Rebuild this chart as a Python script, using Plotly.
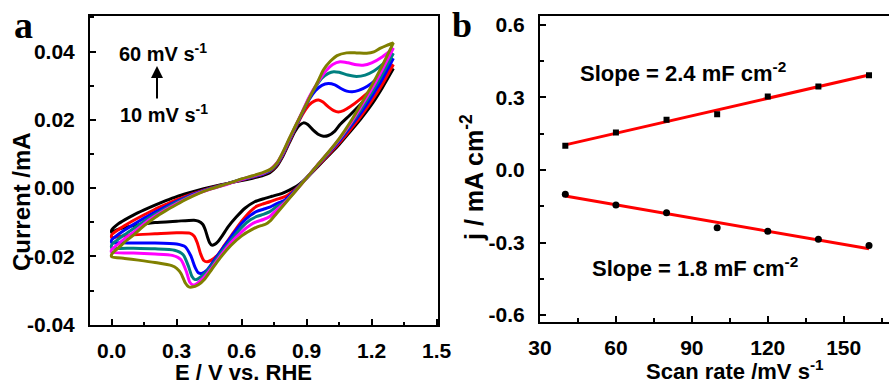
import plotly.graph_objects as go

# ---------------- Panel a: CV curves (E in V vs RHE, I in mA) ----------------
scan_rates = ["10", "20", "30", "40", "50", "60"]
cv_colors = ["#000000", "#ff0000", "#0000ff", "#008080", "#ff00ff", "#808000"]

cv10_E_fwd = [0.00, 0.03, 0.06, 0.10, 0.15, 0.20, 0.25, 0.30, 0.35, 0.40, 0.45, 0.50, 0.55, 0.60, 0.65, 0.70, 0.73, 0.76, 0.79, 0.82, 0.845, 0.865, 0.885, 0.905, 0.93, 0.955, 0.977, 1.00, 1.03, 1.054, 1.10, 1.15, 1.20, 1.25, 1.30]
cv10_I_fwd = [-0.0123, -0.0105, -0.0093, -0.0079, -0.0064, -0.0050, -0.0037, -0.0025, -0.0015, -0.0006, 0.0002, 0.0009, 0.0016, 0.0022, 0.0029, 0.0037, 0.0045, 0.0062, 0.0093, 0.0133, 0.0165, 0.0183, 0.0191, 0.0186, 0.0170, 0.0157, 0.0152, 0.0154, 0.0167, 0.0186, 0.0214, 0.0246, 0.0278, 0.0313, 0.0350]
cv10_E_rev = [1.30, 1.25, 1.20, 1.15, 1.10, 1.05, 1.00, 0.95, 0.90, 0.86, 0.82, 0.784, 0.74, 0.707, 0.66, 0.615, 0.575, 0.538, 0.51, 0.49, 0.475, 0.462, 0.452, 0.443, 0.432, 0.42, 0.40, 0.38, 0.30, 0.20, 0.15, 0.10, 0.05, 0.02, 0.00]
cv10_I_rev = [0.0350, 0.0295, 0.0245, 0.0203, 0.0165, 0.0128, 0.0095, 0.0062, 0.0030, 0.0008, -0.0006, -0.0016, -0.0024, -0.0030, -0.0040, -0.0059, -0.0085, -0.0113, -0.0140, -0.0157, -0.0165, -0.0167, -0.0160, -0.0145, -0.0122, -0.0106, -0.0097, -0.0094, -0.0097, -0.0101, -0.0105, -0.0110, -0.0117, -0.0123, -0.0130]

cv20_E_fwd = [0.00, 0.03, 0.06, 0.10, 0.15, 0.20, 0.25, 0.30, 0.35, 0.40, 0.45, 0.50, 0.55, 0.60, 0.65, 0.70, 0.73, 0.76, 0.79, 0.82, 0.85, 0.88, 0.91, 0.935, 0.955, 0.975, 1.00, 1.025, 1.046, 1.07, 1.10, 1.15, 1.20, 1.25, 1.30]
cv20_I_fwd = [-0.0137, -0.0122, -0.0110, -0.0095, -0.0078, -0.0062, -0.0048, -0.0034, -0.0022, -0.0011, -0.0001, 0.0008, 0.0016, 0.0024, 0.0032, 0.0041, 0.0049, 0.0066, 0.0097, 0.0137, 0.0178, 0.0215, 0.0243, 0.0255, 0.0258, 0.0252, 0.0238, 0.0227, 0.0223, 0.0227, 0.0238, 0.0262, 0.0290, 0.0325, 0.0362]
cv20_E_rev = [1.30, 1.25, 1.20, 1.15, 1.10, 1.05, 1.00, 0.95, 0.90, 0.85, 0.80, 0.76, 0.73, 0.70, 0.67, 0.64, 0.60, 0.56, 0.52, 0.49, 0.46, 0.44, 0.425, 0.41, 0.395, 0.38, 0.36, 0.30, 0.20, 0.10, 0.05, 0.00]
cv20_I_rev = [0.0362, 0.0305, 0.0255, 0.0210, 0.0170, 0.0132, 0.0098, 0.0064, 0.0030, -0.0002, -0.0025, -0.0033, -0.0040, -0.0046, -0.0053, -0.0068, -0.0097, -0.0132, -0.0168, -0.0195, -0.0211, -0.0216, -0.0212, -0.0192, -0.0160, -0.0140, -0.0132, -0.0131, -0.0134, -0.0137, -0.0140, -0.0145]

cv30_E_fwd = [0.00, 0.03, 0.06, 0.10, 0.15, 0.20, 0.25, 0.30, 0.35, 0.40, 0.45, 0.50, 0.55, 0.60, 0.65, 0.70, 0.73, 0.76, 0.79, 0.82, 0.85, 0.88, 0.91, 0.94, 0.97, 1.00, 1.03, 1.06, 1.085, 1.11, 1.14, 1.18, 1.22, 1.26, 1.30]
cv30_I_fwd = [-0.0152, -0.0136, -0.0123, -0.0107, -0.0088, -0.0070, -0.0054, -0.0039, -0.0025, -0.0013, -0.0002, 0.0007, 0.0016, 0.0025, 0.0033, 0.0042, 0.0051, 0.0068, 0.0099, 0.0140, 0.0180, 0.0220, 0.0258, 0.0285, 0.0301, 0.0306, 0.0302, 0.0291, 0.0284, 0.0282, 0.0286, 0.0298, 0.0318, 0.0344, 0.0380]
cv30_E_rev = [1.30, 1.25, 1.20, 1.15, 1.10, 1.05, 1.00, 0.95, 0.90, 0.85, 0.80, 0.76, 0.73, 0.70, 0.67, 0.64, 0.60, 0.56, 0.52, 0.48, 0.44, 0.415, 0.40, 0.385, 0.365, 0.34, 0.30, 0.20, 0.10, 0.05, 0.00]
cv30_I_rev = [0.0380, 0.0320, 0.0268, 0.0220, 0.0178, 0.0137, 0.0101, 0.0066, 0.0030, -0.0004, -0.0035, -0.0046, -0.0056, -0.0062, -0.0068, -0.0080, -0.0103, -0.0135, -0.0170, -0.0205, -0.0240, -0.0250, -0.0248, -0.0232, -0.0198, -0.0172, -0.0164, -0.0161, -0.0161, -0.0160, -0.0160]

cv40_E_fwd = [0.00, 0.03, 0.06, 0.10, 0.15, 0.20, 0.25, 0.30, 0.35, 0.40, 0.45, 0.50, 0.55, 0.60, 0.65, 0.70, 0.73, 0.76, 0.79, 0.82, 0.85, 0.88, 0.91, 0.94, 0.97, 1.00, 1.025, 1.05, 1.09, 1.13, 1.17, 1.21, 1.25, 1.30]
cv40_I_fwd = [-0.0166, -0.0150, -0.0136, -0.0119, -0.0097, -0.0077, -0.0059, -0.0042, -0.0027, -0.0014, -0.0003, 0.0006, 0.0016, 0.0026, 0.0034, 0.0043, 0.0052, 0.0070, 0.0101, 0.0142, 0.0182, 0.0222, 0.0262, 0.0295, 0.0322, 0.0336, 0.0341, 0.0339, 0.0331, 0.0327, 0.0331, 0.0343, 0.0362, 0.0395]
cv40_E_rev = [1.30, 1.25, 1.20, 1.15, 1.10, 1.05, 1.00, 0.95, 0.90, 0.85, 0.80, 0.76, 0.73, 0.70, 0.67, 0.64, 0.60, 0.56, 0.51, 0.47, 0.43, 0.40, 0.385, 0.37, 0.355, 0.33, 0.29, 0.20, 0.10, 0.00]
cv40_I_rev = [0.0395, 0.0335, 0.0280, 0.0230, 0.0184, 0.0141, 0.0103, 0.0067, 0.0030, -0.0006, -0.0040, -0.0055, -0.0069, -0.0077, -0.0083, -0.0093, -0.0115, -0.0145, -0.0185, -0.0220, -0.0250, -0.0265, -0.0268, -0.0258, -0.0230, -0.0195, -0.0182, -0.0178, -0.0176, -0.0175]

cv50_E_fwd = [0.00, 0.03, 0.06, 0.10, 0.15, 0.20, 0.25, 0.30, 0.35, 0.40, 0.45, 0.50, 0.55, 0.60, 0.65, 0.70, 0.73, 0.76, 0.79, 0.82, 0.85, 0.88, 0.91, 0.95, 0.99, 1.02, 1.054, 1.09, 1.13, 1.16, 1.20, 1.25, 1.30]
cv50_I_fwd = [-0.0180, -0.0164, -0.0148, -0.0130, -0.0104, -0.0082, -0.0063, -0.0045, -0.0029, -0.0015, -0.0004, 0.0005, 0.0015, 0.0026, 0.0035, 0.0044, 0.0054, 0.0072, 0.0103, 0.0144, 0.0184, 0.0224, 0.0265, 0.0308, 0.0344, 0.0362, 0.0370, 0.0367, 0.0361, 0.0360, 0.0367, 0.0385, 0.0410]
cv50_E_rev = [1.30, 1.25, 1.20, 1.15, 1.10, 1.05, 1.00, 0.95, 0.90, 0.85, 0.80, 0.76, 0.73, 0.70, 0.67, 0.64, 0.60, 0.55, 0.50, 0.46, 0.42, 0.39, 0.375, 0.36, 0.345, 0.32, 0.28, 0.20, 0.10, 0.00]
cv50_I_rev = [0.0410, 0.0348, 0.0290, 0.0238, 0.0187, 0.0143, 0.0104, 0.0068, 0.0030, -0.0007, -0.0042, -0.0065, -0.0083, -0.0092, -0.0098, -0.0108, -0.0128, -0.0160, -0.0200, -0.0235, -0.0265, -0.0281, -0.0284, -0.0275, -0.0245, -0.0210, -0.0197, -0.0193, -0.0190, -0.0188]

cv60_E_fwd = [0.00, 0.03, 0.06, 0.10, 0.15, 0.20, 0.25, 0.30, 0.35, 0.40, 0.45, 0.50, 0.55, 0.60, 0.65, 0.70, 0.74, 0.765, 0.79, 0.823, 0.87, 0.915, 0.95, 0.977, 1.01, 1.04, 1.084, 1.13, 1.177, 1.21, 1.238, 1.27, 1.30]
cv60_I_fwd = [-0.0194, -0.0176, -0.0158, -0.0138, -0.0110, -0.0086, -0.0066, -0.0048, -0.0031, -0.0016, -0.0004, 0.0006, 0.0016, 0.0027, 0.0036, 0.0046, 0.0058, 0.0075, 0.0105, 0.0150, 0.0210, 0.0267, 0.0310, 0.0346, 0.0372, 0.0388, 0.0396, 0.0396, 0.0395, 0.0399, 0.0409, 0.0418, 0.0425]
cv60_E_rev = [1.30, 1.25, 1.20, 1.15, 1.10, 1.05, 1.00, 0.95, 0.90, 0.85, 0.80, 0.76, 0.73, 0.71, 0.69, 0.67, 0.64, 0.60, 0.55, 0.50, 0.46, 0.43, 0.40, 0.37, 0.355, 0.34, 0.32, 0.30, 0.277, 0.20, 0.123, 0.06, 0.00]
cv60_I_rev = [0.0425, 0.0360, 0.0300, 0.0245, 0.0192, 0.0145, 0.0105, 0.0068, 0.0030, -0.0008, -0.0045, -0.0075, -0.0097, -0.0106, -0.0110, -0.0114, -0.0124, -0.0140, -0.0168, -0.0205, -0.0240, -0.0266, -0.0283, -0.0290, -0.0289, -0.0278, -0.0250, -0.0235, -0.0227, -0.0218, -0.0211, -0.0206, -0.0201]

cv_data = [
    (cv10_E_fwd, cv10_I_fwd, cv10_E_rev, cv10_I_rev),
    (cv20_E_fwd, cv20_I_fwd, cv20_E_rev, cv20_I_rev),
    (cv30_E_fwd, cv30_I_fwd, cv30_E_rev, cv30_I_rev),
    (cv40_E_fwd, cv40_I_fwd, cv40_E_rev, cv40_I_rev),
    (cv50_E_fwd, cv50_I_fwd, cv50_E_rev, cv50_I_rev),
    (cv60_E_fwd, cv60_I_fwd, cv60_E_rev, cv60_I_rev),
]

a_xtick_vals = [0.0, 0.3, 0.6, 0.9, 1.2, 1.5]
a_xtick_text = ["0.0", "0.3", "0.6", "0.9", "1.2", "1.5"]
a_ytick_vals = [-0.04, -0.02, 0.0, 0.02, 0.04]
a_ytick_text = ["-0.04", "-0.02", "0.00", "0.02", "0.04"]

# ---------------- Panel b: current density vs scan rate ----------------
scan_rate = [40, 60, 80, 100, 120, 140, 160]
j_anodic = [0.100, 0.155, 0.208, 0.231, 0.304, 0.346, 0.392]
j_cathodic = [-0.100, -0.145, -0.177, -0.239, -0.253, -0.287, -0.312]
fit_x = [40, 160]
fit_anodic = [0.104, 0.393]
fit_cathodic = [-0.108, -0.326]

b_xtick_vals = [30, 60, 90, 120, 150]
b_xtick_text = ["30", "60", "90", "120", "150"]
b_ytick_vals = [-0.6, -0.3, 0.0, 0.3, 0.6]
b_ytick_text = ["-0.6", "-0.3", "0.0", "0.3", "0.6"]

FONT = "Liberation Sans, Arial, Helvetica, sans-serif"
SERIF = "Liberation Serif, Times New Roman, serif"

W, H = 889, 385

def fx(x):  # window pixel -> paper x
    return x / W

def fy(y):  # window pixel -> paper y
    return 1 - y / H

fig = go.Figure()

for (ef, jf, er, jr), col in zip(cv_data, cv_colors):
    xs = list(ef) + list(er) + [ef[0]]
    ys = list(jf) + list(jr) + [jf[0]]
    fig.add_trace(go.Scatter(x=xs, y=ys, mode="lines",
                             line=dict(color=col, width=3, shape="spline", smoothing=0.6),
                             xaxis="x", yaxis="y", hoverinfo="skip"))

fig.add_trace(go.Scatter(x=fit_x, y=fit_anodic, mode="lines", line=dict(color="#ff0000", width=3),
                         xaxis="x2", yaxis="y2"))
fig.add_trace(go.Scatter(x=fit_x, y=fit_cathodic, mode="lines", line=dict(color="#ff0000", width=3),
                         xaxis="x2", yaxis="y2"))
fig.add_trace(go.Scatter(x=scan_rate, y=j_anodic, mode="markers",
                         marker=dict(symbol="square", size=6, color="#000000"),
                         xaxis="x2", yaxis="y2"))
fig.add_trace(go.Scatter(x=scan_rate, y=j_cathodic, mode="markers",
                         marker=dict(symbol="circle", size=7, color="#000000"),
                         xaxis="x2", yaxis="y2"))

tickfont = dict(family=FONT, size=21, color="black", weight="bold")
common = dict(showline=True, linewidth=2, linecolor="black", showgrid=False, zeroline=False,
              ticks="inside", ticklen=6, tickwidth=2, tickcolor="black", tickfont=tickfont,
              tickmode="array", automargin=False)
minor_common = dict(ticks="inside", ticklen=3.5, tickwidth=2, tickcolor="black", showgrid=False)

fig.update_layout(
    template="none",
    width=W, height=H, margin=dict(l=0, r=0, t=0, b=0, autoexpand=False),
    paper_bgcolor="white", plot_bgcolor="white", showlegend=False,
    xaxis=dict(common, domain=[fx(90), fx(438)], range=[-0.1, 1.506], anchor="y",
               tickvals=a_xtick_vals, ticktext=a_xtick_text, mirror=True, ticklabelstandoff=6,
               minor=dict(minor_common, dtick=0.15, tick0=0)),
    yaxis=dict(common, domain=[fy(325), fy(16)], range=[-0.0401, 0.0504], anchor="x",
               tickvals=a_ytick_vals, ticktext=a_ytick_text, mirror=True, ticklabelstandoff=9,
               minor=dict(minor_common, dtick=0.01, tick0=0)),
    xaxis2=dict(common, domain=[fx(540), 1.0], range=[30, 167.9], anchor="y2",
                tickvals=b_xtick_vals, ticktext=b_xtick_text, mirror=True, ticklabelstandoff=6,
                minor=dict(minor_common, dtick=15, tick0=0)),
    yaxis2=dict(common, domain=[fy(321.7), fy(16)], range=[-0.6277, 0.6372], anchor="x2",
                tickvals=b_ytick_vals, ticktext=b_ytick_text, mirror=False, ticklabelstandoff=9,
                minor=dict(minor_common, dtick=0.15, tick0=0)),
)

def ann(text, x, y, size, xanchor="center", yanchor="middle", angle=0, family=FONT, weight="bold"):
    fig.add_annotation(text=text, x=fx(x), y=fy(y), xref="paper", yref="paper", showarrow=False,
                       xanchor=xanchor, yanchor=yanchor, textangle=angle,
                       font=dict(family=family, size=size, color="black", weight=weight))

ann("a", 23, 25, 38, family=SERIF)
ann("b", 462, 25, 36, family=SERIF)

ann("E / V vs. RHE", 243, 372, 22)
ann("Current /mA", 22, 202, 24, angle=-90)
ann("Scan rate /mV s<sup>-1</sup>", 735, 370, 22)
ann("j / mA cm<sup>-2</sup>", 472, 177, 25, angle=-90)

ann(scan_rates[-1] + " mV s<sup>-1</sup>", 117, 53, 20, xanchor="left")
ann(scan_rates[0] + " mV s<sup>-1</sup>", 118, 113, 20, xanchor="left")
fig.add_annotation(x=fx(157), y=fy(66), xref="paper", yref="paper", ax=0, ay=34,
                   axref="pixel", ayref="pixel", showarrow=True, arrowhead=2, arrowsize=1.2,
                   arrowwidth=2, arrowcolor="black", text="")

ann("Slope = 2.4 mF cm<sup>-2</sup>", 578, 72, 22, xanchor="left")
ann("Slope = 1.8 mF cm<sup>-2</sup>", 590, 267, 22, xanchor="left")

# remove the browser's default 8px body margin so the 889x385 figure fills the window exactly
fig.write_html("out.html", config={"displayModeBar": False, "staticPlot": True},
               post_script="document.body.style.margin='0px';")
